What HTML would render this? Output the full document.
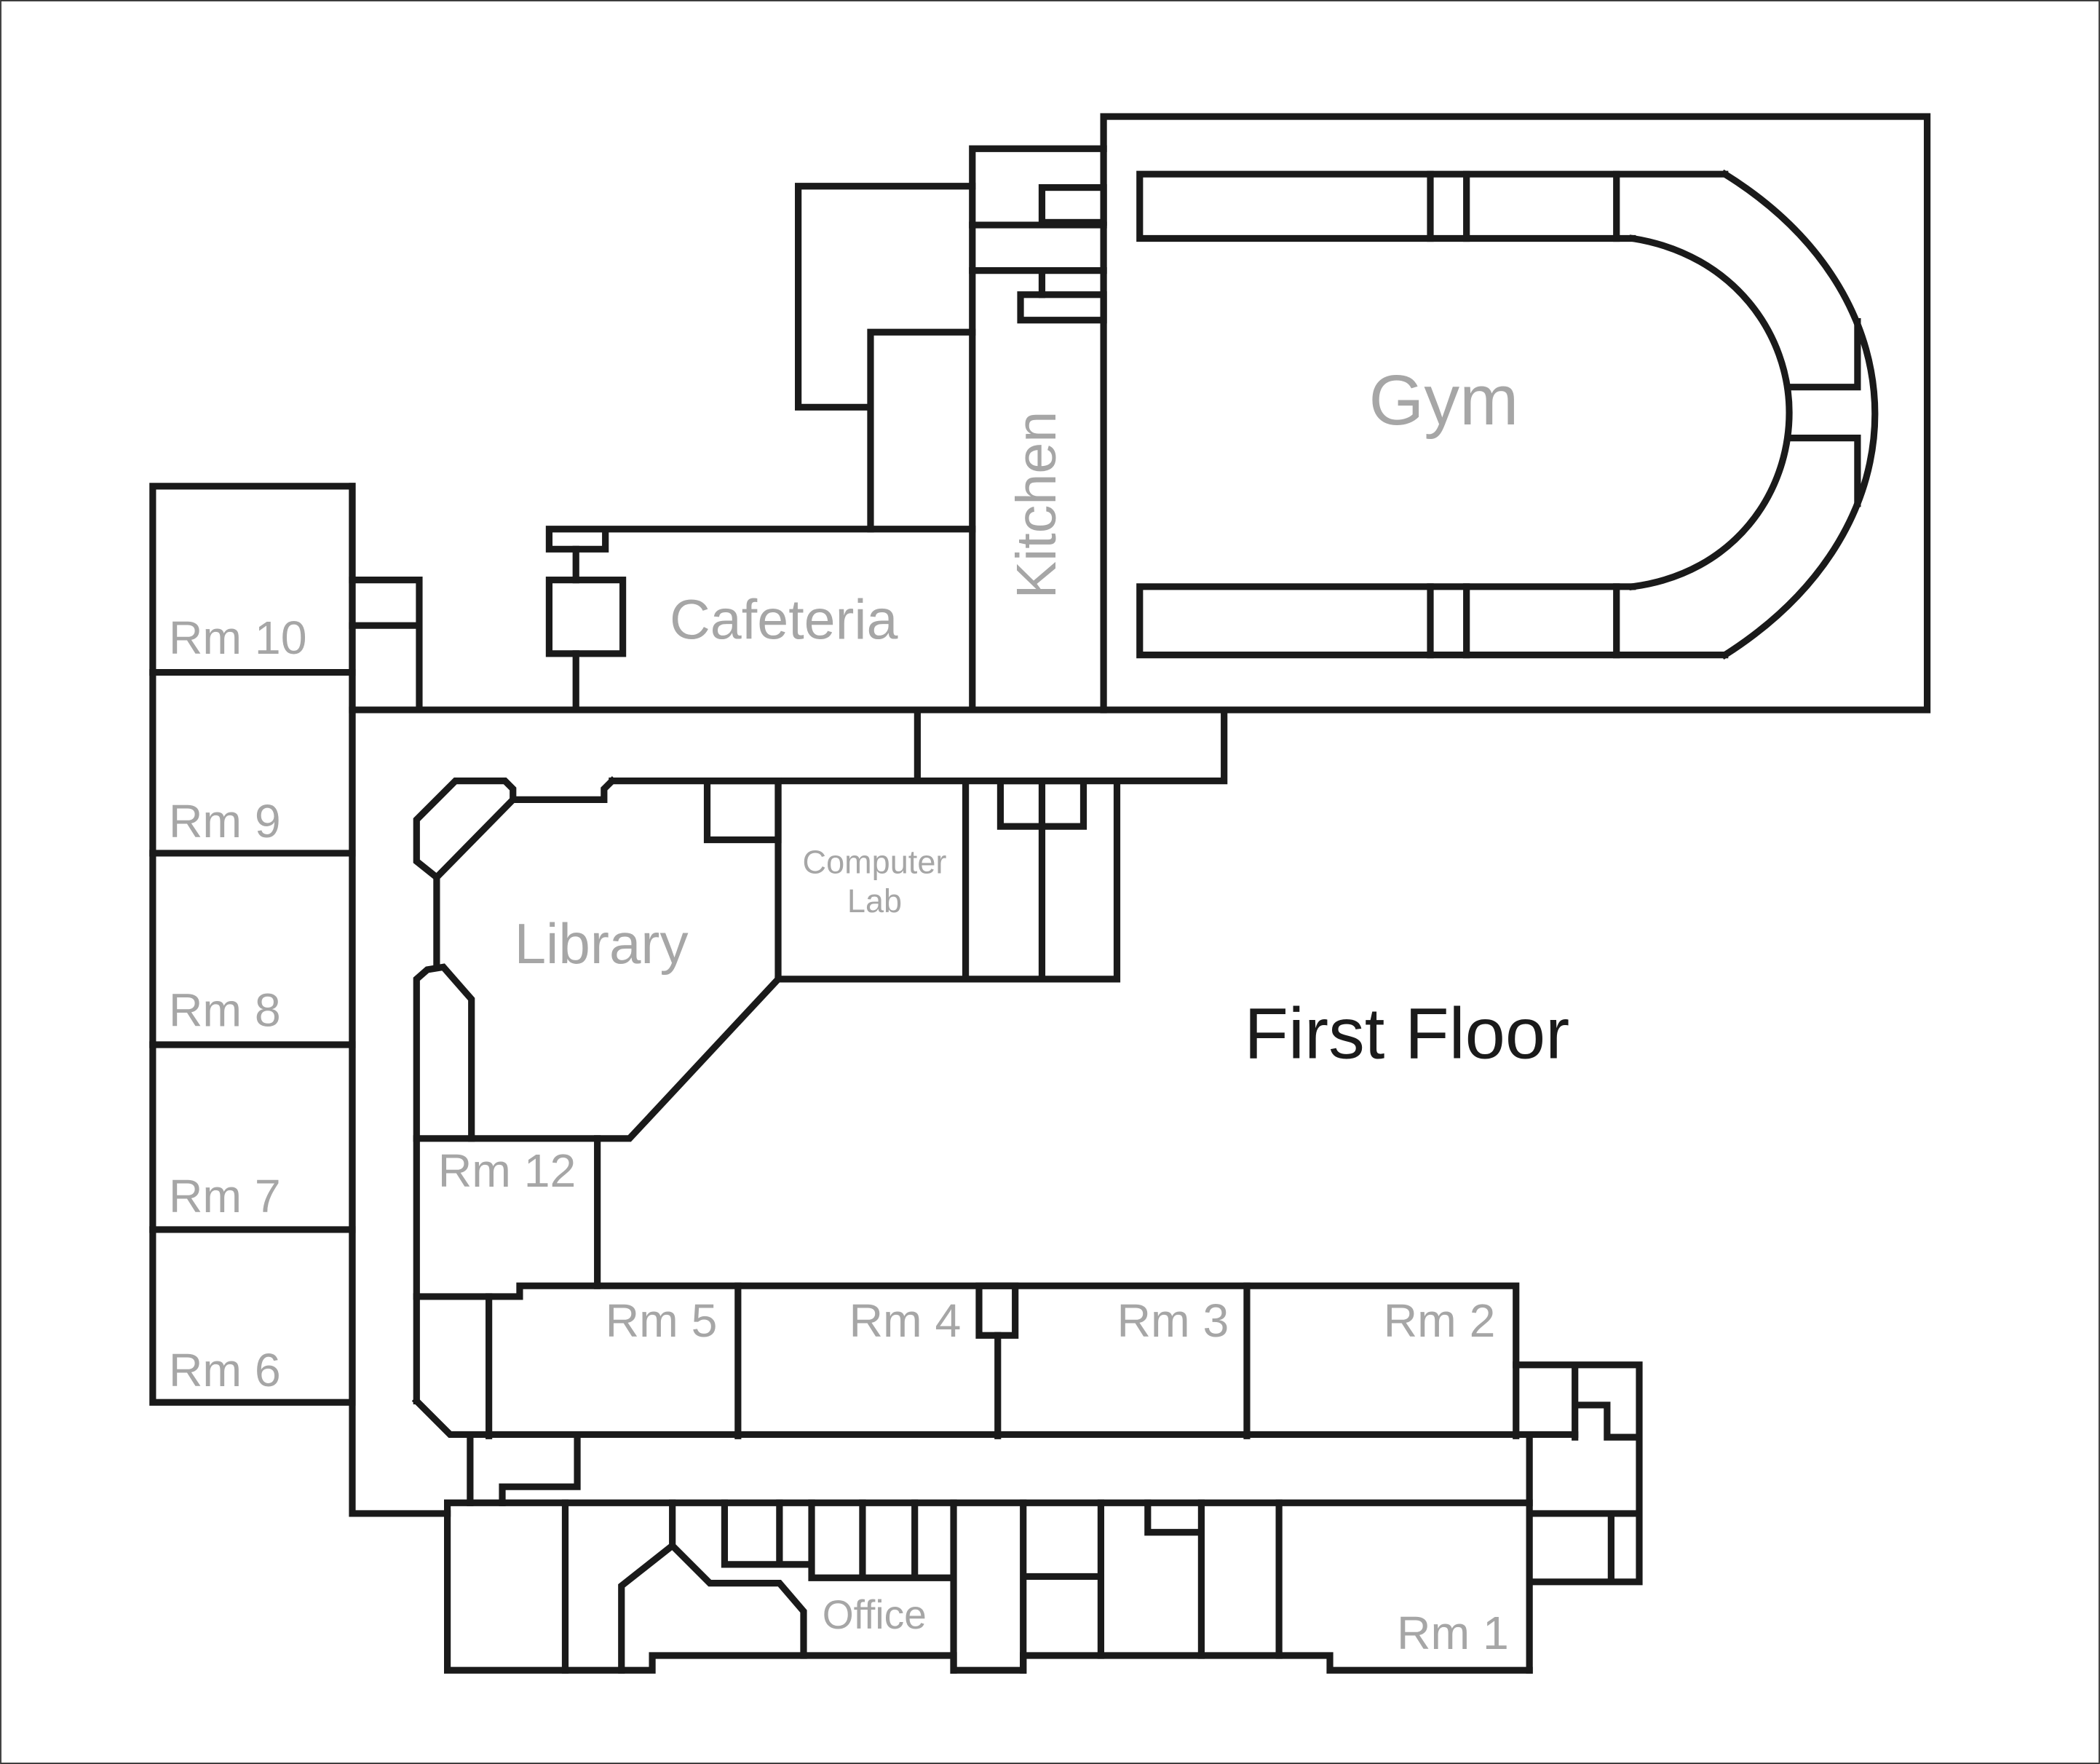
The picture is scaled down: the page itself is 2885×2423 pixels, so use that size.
<!DOCTYPE html>
<html><head><meta charset="utf-8"><style>
html,body{margin:0;padding:0;background:#fff}
svg{display:block}
text{font-family:"Liberation Sans",Arial,sans-serif;fill:#a6a6a6}
</style></head><body>
<svg width="2885" height="2423" viewBox="0 0 1568 1317" xmlns="http://www.w3.org/2000/svg">
<rect x="0.5" y="0.5" width="1567" height="1316" fill="#fff" stroke="#333" stroke-width="1"/>
<g fill="none" stroke="#1a1a1a" stroke-width="5" stroke-linejoin="miter" stroke-linecap="square">
<rect x="824" y="87" width="615" height="443"/>
<path d="M1288,130 L851,130 L851,178 L1219,178"/>
<path d="M1068,130V178M1095,130V178M1207,130V178"/>
<path d="M1288,489 L851,489 L851,438 L1219,438"/>
<path d="M1068,438V489M1095,438V489M1207,438V489"/>
<path d="M1288,130 C1365,178 1400,245 1400,309 C1400,373 1365,440 1288,489"/>
<path d="M1219,178 C1295,190 1336,250 1336,308 C1336,368 1295,428 1219,438"/>
<path d="M1336,289H1387V240M1336,327H1387V376"/>
<path d="M726,528V111H824"/>
<path d="M726,168H824M726,202H824"/>
<rect x="778" y="140" width="46" height="26"/>
<path d="M778,202V220"/>
<rect x="762" y="220" width="62" height="19"/>
<path d="M726,139H596V304H650M650,248H726M650,248V395"/>
<path d="M726,395H410V410H452V395"/>
<path d="M430,410V433"/>
<rect x="410" y="433" width="55" height="55"/>
<path d="M430,488V528"/>
<path d="M263,530H824"/>
<path d="M263,363V1130H334"/>
<path d="M914,530V583H457M685,530V583"/>
<rect x="114" y="363" width="149" height="684"/>
<path d="M114,502H263M114,637H263M114,780H263M114,918H263"/>
<path d="M263,433H313V528M263,467H313"/>
<path d="M457,583L451,589V597H383V589L377,583H340L311,612V643L326,655L383,597"/>
<path d="M326,655V722"/>
<path d="M311,1046V731L319,724L331,722L352,746V850"/>
<path d="M311,850H470L581,731V583"/>
<rect x="528" y="583" width="53" height="44"/>
<path d="M581,731H834V583M721,583V731M778,583V731"/>
<rect x="747" y="583" width="62" height="34"/>
<path d="M446,850V960"/>
<path d="M311,968H388V960H1132V1019"/>
<path d="M365,968V1072"/>
<path d="M311,1046L336,1071H1176"/>
<path d="M551,960V1072M931,960V1072M745,997V1072"/>
<rect x="731" y="960" width="27" height="37"/>
<path d="M1132,1019H1224V1181H1142M1176,1019V1073M1179,1049H1200V1073H1224M1142,1072V1247M1142,1130H1224M1203,1130V1181M1132,1019V1072"/>
<path d="M351,1072V1122M431,1072V1110H375V1122"/>
<path d="M334,1122H1142M334,1122V1247H487V1236H712V1247H764V1236H993V1247H1142"/>
<path d="M422,1122V1247M464,1247V1184L502,1154V1122M502,1154L530,1182H582L600,1203V1236"/>
<path d="M541,1122V1168H606M582,1122V1168M606,1122V1178H712M644,1122V1178M683,1122V1178M712,1122V1247M764,1122V1247M764,1177H822M822,1122V1236"/>
<path d="M857,1122V1144H897M897,1122V1236M955,1122V1236"/>
</g>
<text x="1078" y="317" font-size="53" text-anchor="middle">Gym</text>
<text transform="translate(788,377) rotate(-90)" font-size="42" text-anchor="middle">Kitchen</text>
<text x="500" y="477" font-size="42">Cafeteria</text>
<text x="126" y="488" font-size="35">Rm 10</text>
<text x="126" y="625" font-size="35">Rm 9</text>
<text x="126" y="766" font-size="35">Rm 8</text>
<text x="126" y="905" font-size="35">Rm 7</text>
<text x="126" y="1035" font-size="35">Rm 6</text>
<text x="384" y="719" font-size="42.5">Library</text>
<text x="653" y="652" font-size="24.5" text-anchor="middle">Computer</text>
<text x="653" y="681" font-size="24.5" text-anchor="middle">Lab</text>
<text x="327" y="886" font-size="35">Rm 12</text>
<text x="452" y="998" font-size="35">Rm 5</text>
<text x="634" y="998" font-size="35">Rm 4</text>
<text x="834" y="998" font-size="35">Rm 3</text>
<text x="1033" y="998" font-size="35">Rm 2</text>
<text x="614" y="1216" font-size="30">Office</text>
<text x="1043" y="1231" font-size="35">Rm 1</text>
<text x="929" y="790" font-size="54" style="fill:#1a1a1a">First Floor</text>
</svg>
</body></html>
